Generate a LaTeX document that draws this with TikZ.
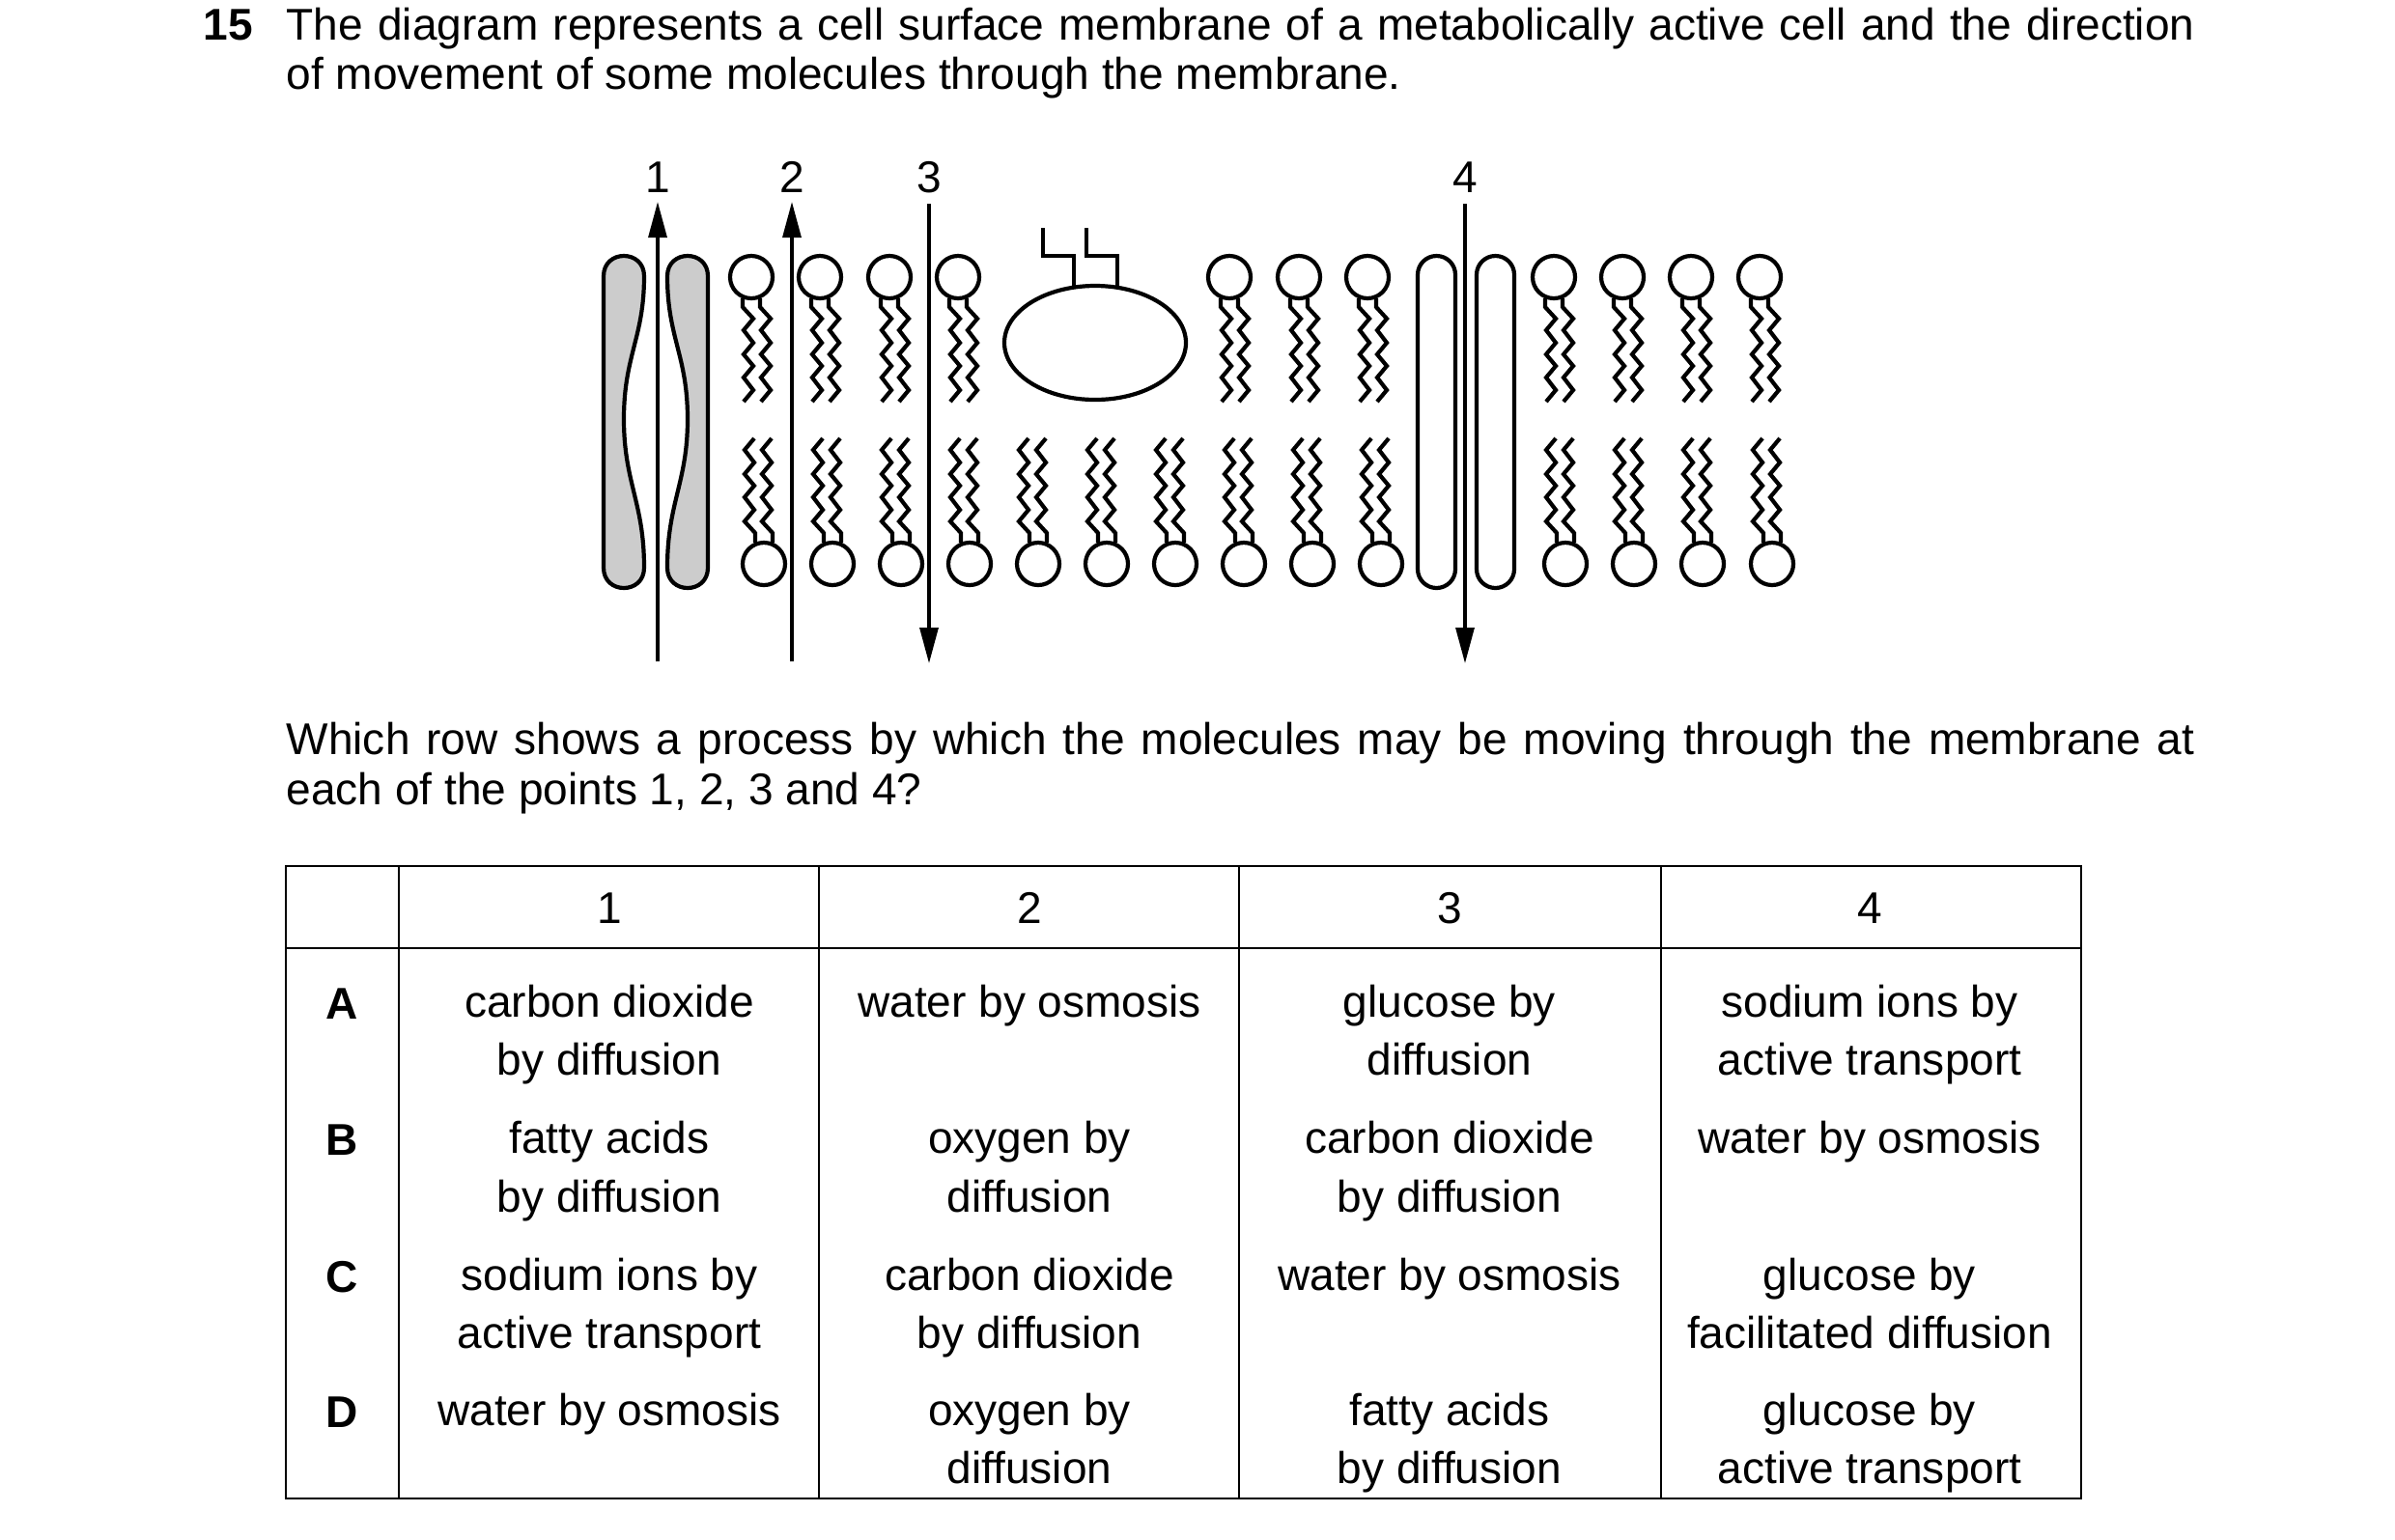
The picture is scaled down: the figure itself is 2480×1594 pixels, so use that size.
\documentclass[tikz,border=0pt]{standalone}
\usepackage{fontspec}
\setmainfont{Liberation Sans}
\usetikzlibrary{arrows.meta}
\begin{document}
\begin{tikzpicture}[x=0.1mm,y=-0.1mm,
  txt/.style={inner sep=0pt,anchor=base,font=\fontsize{13.1pt}{15pt}\selectfont},
  txtw/.style={txt,anchor=base west},
  mem/.style={line width=0.42mm,line join=miter},
  flow/.style={line width=0.32mm,-{Triangle[length=3.7mm,width=1.9mm]}},
  grid/.style={line width=0.2mm}]
\useasboundingbox (0,0) rectangle (2480,1594);
% heading
\node[txtw,font=\fontsize{13.1pt}{15pt}\selectfont\bfseries] (num) at (210,41) {15};
\node[txtw] (t1) at (296,41) {\makebox[197.6mm][s]{The diagram represents a cell surface membrane of a metabolically active cell and the direction}};
\node[txtw] (t2) at (296,92) {of movement of some molecules through the membrane.};
% channel 1 (grey)
\draw[mem,fill=black!20] (625,286) -- (625,588) .. controls (625,616) and (667,616) .. (667,588)
  .. controls (667,520) and (646,500) .. (646,434) .. controls (646,368) and (667,350) .. (667,286)
  .. controls (667,258) and (625,258) .. (625,286) -- cycle;
\draw[mem,fill=black!20] (733,286) -- (733,588) .. controls (733,616) and (691,616) .. (691,588)
  .. controls (691,520) and (712,500) .. (712,434) .. controls (712,368) and (691,350) .. (691,286)
  .. controls (691,258) and (733,258) .. (733,286) -- cycle;
% channel 4
\draw[mem,rounded corners=1.95mm] (1468,265) rectangle (1507,609);
\draw[mem,rounded corners=1.95mm] (1529,265) rectangle (1568,609);
% glycoprotein
\draw[mem] (1134,355) ellipse [x radius=94, y radius=59];
\draw[mem] (1080,236) -- (1080,265) -- (1112,265) -- (1112,297);
\draw[mem] (1125,236) -- (1125,265) -- (1157,265) -- (1157,297);
% upper lipids
\foreach \cx in {778,849,921,992,1273,1345,1416,1609,1680,1751,1822}{
  \draw[mem] (\cx,287) ellipse [x radius=22, y radius=22];
  \foreach \d in {-9,9}{
    \draw[mem] ({\cx+\d},309) -- ({\cx+\d},318) -- ({\cx+\d+11},330) -- ({\cx+\d+1},342) -- ({\cx+\d+11},355)
      -- ({\cx+\d+1},367) -- ({\cx+\d+11},379) -- ({\cx+\d+1},391) -- ({\cx+\d+11},404) -- ({\cx+\d+1},416);
  }
}
% lower lipids
\foreach \cx in {791,862,933,1004,1075,1146,1217,1288,1359,1430,1621,1692,1763,1835}{
  \draw[mem] (\cx,584) ellipse [x radius=22, y radius=22];
  \foreach \d in {-9,9}{
    \draw[mem] ({\cx+\d},562) -- ({\cx+\d},552) -- ({\cx+\d-11},540) -- ({\cx+\d-1},528) -- ({\cx+\d-11},515)
      -- ({\cx+\d-1},503) -- ({\cx+\d-11},491) -- ({\cx+\d-1},479) -- ({\cx+\d-11},466) -- ({\cx+\d-1},454);
  }
}
% arrows and labels
\coordinate (a1s) at (681,685); \coordinate (a1e) at (681,209);
\coordinate (a2s) at (820,685); \coordinate (a2e) at (820,209);
\coordinate (a3s) at (962,211); \coordinate (a3e) at (962,687);
\coordinate (a4s) at (1517,211); \coordinate (a4e) at (1517,687);
\draw[flow] (a1s) -- (a1e);
\draw[flow] (a2s) -- (a2e);
\draw[flow] (a3s) -- (a3e);
\draw[flow] (a4s) -- (a4e);
\node[txt] (l1) at (681,199) {1};
\node[txt] (l2) at (820,199) {2};
\node[txt] (l3) at (962,199) {3};
\node[txt] (l4) at (1517,199) {4};
% question
\node[txtw] (q1) at (296,781) {\makebox[197.6mm][s]{Which row shows a process by which the molecules may be moving through the membrane at}};
\node[txtw] (q2) at (296,833) {each of the points 1, 2, 3 and 4?};
% table
\draw[grid] (296,897) rectangle (2155,1552);
\draw[grid] (296,982) -- (2155,982);
\foreach \x in {413,848,1283,1720} \draw[grid] (\x,897) -- (\x,1552);
\node[txt] (h1) at (631,956) {1};
\node[txt] (h2) at (1066,956) {2};
\node[txt] (h3) at (1501,956) {3};
\node[txt] (h4) at (1936,956) {4};
\node[txt,font=\fontsize{13.1pt}{15pt}\selectfont\bfseries] (rA) at (354,1055) {A};
\node[txt,font=\fontsize{13.1pt}{15pt}\selectfont\bfseries] (rB) at (354,1196) {B};
\node[txt,font=\fontsize{13.1pt}{15pt}\selectfont\bfseries] (rC) at (354,1338) {C};
\node[txt,font=\fontsize{13.1pt}{15pt}\selectfont\bfseries] (rD) at (354,1478) {D};
% row A
\node[txt] (a1a) at (631,1053) {carbon dioxide}; \node[txt] (a1b) at (631,1113) {by diffusion};
\node[txt] (a2a) at (1066,1053) {water by osmosis};
\node[txt] (a3a) at (1501,1053) {glucose by}; \node[txt] (a3b) at (1501,1113) {diffusion};
\node[txt] (a4a) at (1936,1053) {sodium ions by}; \node[txt] (a4b) at (1936,1113) {active transport};
% row B
\node[txt] (b1a) at (631,1194) {fatty acids}; \node[txt] (b1b) at (631,1255) {by diffusion};
\node[txt] (b2a) at (1066,1194) {oxygen by}; \node[txt] (b2b) at (1066,1255) {diffusion};
\node[txt] (b3a) at (1501,1194) {carbon dioxide}; \node[txt] (b3b) at (1501,1255) {by diffusion};
\node[txt] (b4a) at (1936,1194) {water by osmosis};
% row C
\node[txt] (c1a) at (631,1336) {sodium ions by}; \node[txt] (c1b) at (631,1396) {active transport};
\node[txt] (c2a) at (1066,1336) {carbon dioxide}; \node[txt] (c2b) at (1066,1396) {by diffusion};
\node[txt] (c3a) at (1501,1336) {water by osmosis};
\node[txt] (c4a) at (1936,1336) {glucose by}; \node[txt] (c4b) at (1936,1396) {facilitated diffusion};
% row D
\node[txt] (d1a) at (631,1476) {water by osmosis};
\node[txt] (d2a) at (1066,1476) {oxygen by}; \node[txt] (d2b) at (1066,1536) {diffusion};
\node[txt] (d3a) at (1501,1476) {fatty acids}; \node[txt] (d3b) at (1501,1536) {by diffusion};
\node[txt] (d4a) at (1936,1476) {glucose by}; \node[txt] (d4b) at (1936,1536) {active transport};
\end{tikzpicture}
\end{document}
